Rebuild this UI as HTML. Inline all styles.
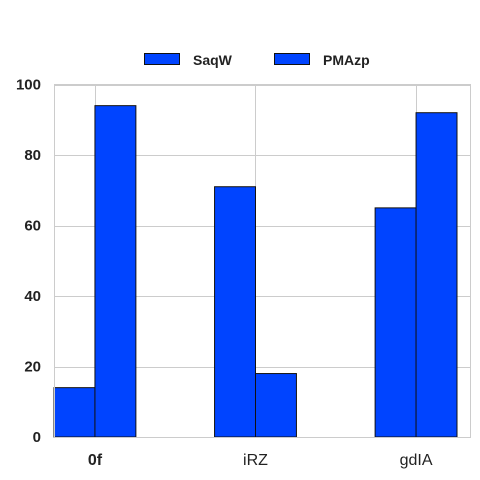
<!DOCTYPE html>
<html><head><meta charset="utf-8"><style>
body{margin:0;background:#fff;}
svg{display:block;font-family:"Liberation Sans",Arial,sans-serif;}
</style></head><body>
<svg id="chart" width="480" height="480" viewBox="0 0 480 480">
<rect x="0" y="0" width="480" height="480" fill="#fff"/>
<g id="grid"></g>
<g id="bars"></g>
<rect x="54.5" y="84.5" width="416" height="353" fill="none" stroke="#cccccc" stroke-width="1"/>
<g id="yticks"></g>
<g id="xticks"></g>
<g>
<g>
<rect x="144.5" y="53.5" width="35" height="11" fill="#0044ff" stroke="#111" stroke-width="1"/>
<text x="193" y="65" font-size="14" font-weight="bold" fill="#222">SaqW</text>
</g>
<g>
<rect x="274.5" y="53.5" width="35" height="11" fill="#0044ff" stroke="#111" stroke-width="1"/>
<text x="323" y="65" font-size="14" font-weight="bold" fill="#222">PMAzp</text>
</g>
</g>
</svg>
<script>
const categories = ["0f", "iRZ", "gdIA"];
const seriesSaqW = [14, 71, 65];
const seriesPMAzp = [94, 18, 92];
const yTicks = [0, 20, 40, 60, 80, 100];

const NS = "http://www.w3.org/2000/svg";
const plotL = 54, plotR = 470, plotT = 84.5, plotB = 437;
const xMin = -0.255, xMax = 2.336;
function xScale(v){ return plotL + (v - xMin) / (xMax - xMin) * (plotR - plotL); }
function yScale(v){ return plotB - v / 100 * (plotB - plotT); }
const barW = 0.255 * (plotR - plotL) / (xMax - xMin);

const grid = document.getElementById('grid');
const bars = document.getElementById('bars');
const yg = document.getElementById('yticks');
const xg = document.getElementById('xticks');

yTicks.forEach(t => {
  const y = Math.round(yScale(t)) + 0.5;
  const l = document.createElementNS(NS, 'line');
  l.setAttribute('x1', plotL); l.setAttribute('x2', plotR);
  l.setAttribute('y1', y); l.setAttribute('y2', y);
  l.setAttribute('stroke', '#cccccc');
  
  
  grid.appendChild(l);
  const tx = document.createElementNS(NS, 'text');
  tx.setAttribute('x', 41); tx.setAttribute('y', yScale(t) + 5);
  tx.setAttribute('text-anchor', 'end');
  tx.setAttribute('font-size', '15'); tx.setAttribute('font-weight', 'bold');
  tx.setAttribute('fill', '#222');
  tx.textContent = t;
  
  
  yg.appendChild(tx);
});

categories.forEach((c, i) => {
  const x = Math.round(xScale(i)) + 0.5;
  const l = document.createElementNS(NS, 'line');
  l.setAttribute('x1', x); l.setAttribute('x2', x);
  l.setAttribute('y1', plotT); l.setAttribute('y2', plotB);
  l.setAttribute('stroke', '#cccccc');
  
  
  grid.appendChild(l);

  [[seriesSaqW[i], -1, 'saqw'], [seriesPMAzp[i], 0, 'pmazp']].forEach(([v, off, nm]) => {
    const r = document.createElementNS(NS, 'rect');
    const bx = xScale(i) + off * barW;
    r.setAttribute('x', bx); r.setAttribute('width', barW);
    r.setAttribute('y', yScale(v)); r.setAttribute('height', plotB - yScale(v));
    r.setAttribute('fill', '#0044ff'); r.setAttribute('stroke', '#111');
    r.setAttribute('stroke-width', '1');
    
    
    bars.appendChild(r);
  });

  const tx = document.createElementNS(NS, 'text');
  tx.setAttribute('x', xScale(i)); tx.setAttribute('y', 465);
  tx.setAttribute('text-anchor', 'middle');
  tx.setAttribute('font-size', '16');
  if (i === 0) tx.setAttribute('font-weight', 'bold');
  tx.setAttribute('fill', '#222');
  tx.textContent = c;
  
  
  xg.appendChild(tx);
});
</script>
</body></html>
